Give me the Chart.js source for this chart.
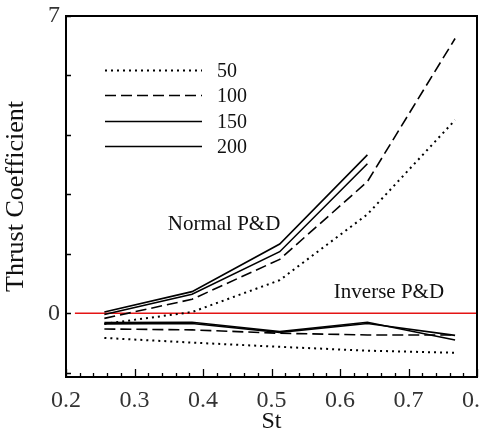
<!DOCTYPE html>
<html>
<head>
<meta charset="utf-8">
<script src="https://cdn.jsdelivr.net/npm/chart.js@4/dist/chart.umd.min.js"></script>
<style>
  html, body { margin: 0; padding: 0; background: #fff; overflow: hidden; }
  #wrap { width: 479px; height: 429px; }
</style>
</head>
<body>
<div id="wrap"><canvas id="thrust" width="479" height="429"></canvas></div>
<script>
// Strouhal numbers of the sampled cases
const st = [0.256, 0.384, 0.512, 0.64, 0.768];

// thrust coefficient, normal pitch & deflection
const normal50  = [-0.25, 0.03, 0.78, 2.33, 4.55];
const normal100 = [-0.12, 0.33, 1.27, 3.10, 6.47];
const normal150 = [-0.03, 0.45, 1.45, 3.52];
const normal200 = [0.03, 0.51, 1.63, 3.73];

// thrust coefficient, inverse pitch & deflection
const inverse50  = [-0.58, -0.69, -0.79, -0.88, -0.93];
const inverse100 = [-0.37, -0.39, -0.47, -0.51, -0.51];
const inverse150 = [-0.25, -0.24, -0.45, -0.24, -0.52];
const inverse200 = [-0.22, -0.21, -0.43, -0.21, -0.63];

const seriesNames = ['50', '100', '150', '200'];

// zero reference line
const zeroLineX = [0.213, 0.8];
const zeroLineY = [0, 0];

// axis ticks
const xTickStep = 0.1;
const xMinorStep = 0.02;
const yTickValues = [-1.4, 0, 1.4, 2.8, 4.2, 5.6, 7];
const yTickLabels = [0, 7];

function pts(xs, ys) {
    return ys.map(function (y, i) { return { x: xs[i], y: y }; });
}

const SERIF = "'Liberation Serif', 'Times New Roman', serif";
Chart.defaults.font.family = SERIF;
Chart.defaults.color = '#222';

const styles = [
    { borderDash: [2, 4], borderWidth: 2 },   // 50
    { borderDash: [11, 5], borderWidth: 1.6 }, // 100
    { borderDash: [], borderWidth: 1.6 },      // 150
    { borderDash: [], borderWidth: 1.6 }       // 200
];

function lineSet(data, s) {
    return {
        data: data,
        borderColor: '#000',
        borderWidth: s.borderWidth,
        borderDash: s.borderDash,
        pointRadius: 0,
        tension: 0,
        fill: false
    };
}

const normals = [normal50, normal100, normal150, normal200];
const inverses = [inverse50, inverse100, inverse150, inverse200];
const datasets = [];
for (let i = 0; i < 4; i++) {
    datasets.push(lineSet(pts(st, normals[i]), styles[i]));
    datasets.push(lineSet(pts(st, inverses[i]), styles[i]));
}
// red line goes last so it is painted underneath
datasets.push({
    data: pts(zeroLineX, zeroLineY),
    borderColor: 'rgb(228, 20, 20)',
    borderWidth: 1.5,
    pointRadius: 0,
    fill: false
});

// no extra room for the end labels, the last one runs off the canvas
function noEdgePadding(scale) {
    scale.paddingLeft = 0;
    scale.paddingRight = 0;
    scale.paddingTop = 0;
    scale.paddingBottom = 0;
}

// box, inward ticks, legend and region labels
const decorations = {
    id: 'decorations',
    afterDraw(chart) {
        const ctx = chart.ctx;
        const a = chart.chartArea;
        const xs = chart.scales.x;
        const ys = chart.scales.y;
        ctx.save();

        ctx.strokeStyle = '#000';
        ctx.lineWidth = 1.3;
        ctx.beginPath();
        for (let v = xs.min; v <= xs.max + 1e-9; v += xMinorStep) {
            const major = Math.abs(v / xTickStep - Math.round(v / xTickStep)) < 1e-6;
            const px = Math.round(xs.getPixelForValue(v)) + 0.5;
            ctx.moveTo(px, a.bottom);
            ctx.lineTo(px, a.bottom - (major ? 8 : 4));
        }
        yTickValues.forEach(function (v) {
            const py = Math.round(ys.getPixelForValue(v)) + 0.5;
            ctx.moveTo(a.left, py);
            ctx.lineTo(a.left + 5, py);
        });
        ctx.stroke();

        ctx.lineWidth = 2;
        ctx.strokeRect(a.left, a.top, a.right - a.left, a.bottom - a.top);

        // legend
        ctx.font = '20px ' + SERIF;
        ctx.fillStyle = '#111';
        ctx.textBaseline = 'middle';
        const lx0 = a.left + 39, lx1 = a.left + 136;
        for (let i = 0; i < seriesNames.length; i++) {
            const ly = Math.round(a.top + 53.5 + i * 25.5) + 0.5;
            ctx.setLineDash(styles[i].borderDash);
            ctx.lineWidth = styles[i].borderWidth;
            ctx.beginPath();
            ctx.moveTo(lx0, ly);
            ctx.lineTo(lx1, ly);
            ctx.stroke();
            ctx.fillText(seriesNames[i], a.left + 151, ly + 1);
        }
        ctx.setLineDash([]);

        ctx.font = '21px ' + SERIF;
        ctx.textAlign = 'center';
        ctx.fillText('Normal P&D', xs.getPixelForValue(0.4307), ys.getPixelForValue(2.1));
        ctx.fillText('Inverse P&D', xs.getPixelForValue(0.6715), ys.getPixelForValue(0.485));
        ctx.restore();
    }
};

new Chart(document.getElementById('thrust'), {
    type: 'line',
    data: { datasets: datasets },
    options: {
        responsive: false,
        animation: false,
        events: [],
        layout: { autoPadding: false, padding: { left: 0, top: 16, right: 2, bottom: 0 } },
        plugins: { legend: { display: false }, tooltip: { enabled: false } },
        scales: {
            x: {
                type: 'linear',
                min: 0.2,
                max: 0.8,
                grid: { display: false, drawTicks: false },
                border: { display: false },
                ticks: {
                    stepSize: xTickStep,
                    padding: 9,
                    color: '#333',
                    font: { size: 24 },
                    maxRotation: 0,
                    callback: function (v) { return v.toFixed(1); }
                },
                title: {
                    display: true,
                    text: 'St',
                    color: '#111',
                    font: { size: 24 },
                    padding: { top: 0, bottom: -7 }
                },
                afterFit: function (scale) {
                    scale.height = 52;
                    noEdgePadding(scale);
                }
            },
            y: {
                type: 'linear',
                min: -1.5,
                max: 7,
                grid: { display: false, drawTicks: false },
                border: { display: false },
                afterBuildTicks: function (scale) {
                    scale.ticks = yTickValues.map(function (v) { return { value: v }; });
                },
                ticks: {
                    padding: 6,
                    color: '#333',
                    font: { size: 24 },
                    callback: function (v) { return yTickLabels.indexOf(v) !== -1 ? String(v) : ''; }
                },
                title: {
                    display: true,
                    text: 'Thrust Coefficient',
                    color: '#111',
                    font: { size: 26 },
                    padding: { top: 1, bottom: 0 }
                },
                afterFit: function (scale) {
                    scale.width = 66;
                    noEdgePadding(scale);
                }
            }
        }
    },
    plugins: [decorations]
});
</script>
</body>
</html>
